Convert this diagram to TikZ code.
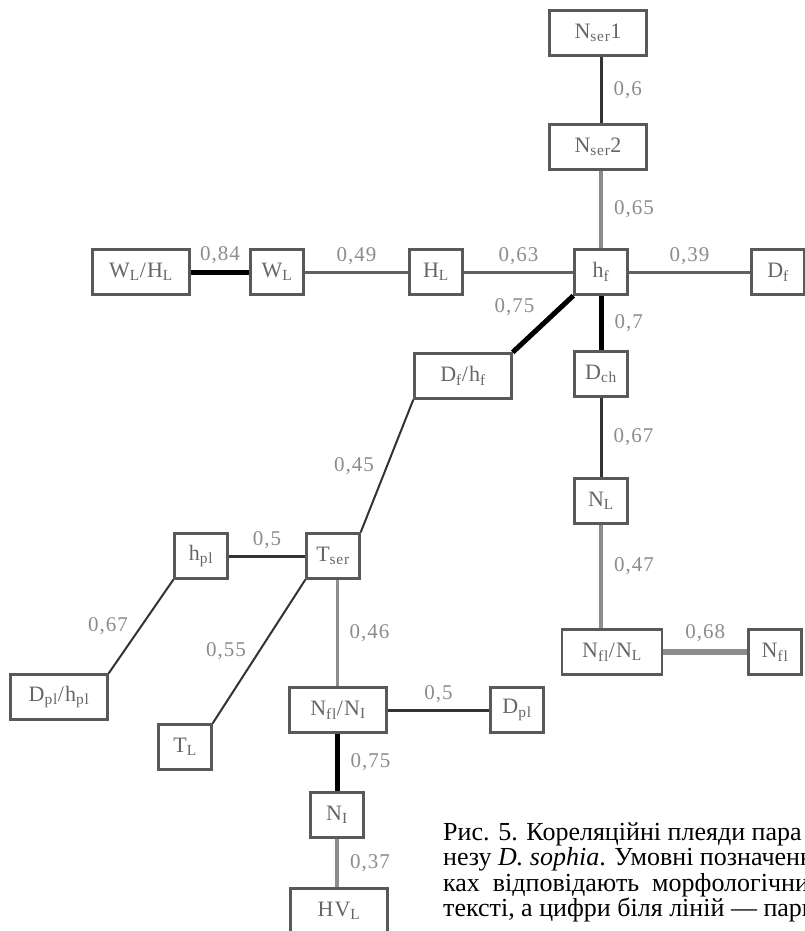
\documentclass[tikz,border=0pt]{standalone}
\usepackage{fontspec}
\setmainfont{Liberation Serif}
\newfontfamily\spacedfont[LetterSpace=5]{Liberation Serif}

\begin{document}
\begin{tikzpicture}[x=1pt,y=-1pt]
\tikzstyle{every node}=[inner sep=0pt, text=black!60]
\tikzstyle{box}=[draw=black!65, line width=2.4pt, minimum height=45pt, minimum width=53pt, font=\spacedfont\fontsize{22}{22}\selectfont]
\tikzstyle{wbox}=[box, minimum width=97pt]
\tikzstyle{val}=[inner sep=3pt, text=black!45, font=\spacedfont\fontsize{21}{21}\selectfont]
\tikzstyle{capt}=[text=black, font=\fontsize{26}{26}\selectfont]
\tikzstyle{lbold}=[line width=5pt, black]
\tikzstyle{ldark}=[line width=3pt, black!80]
\tikzstyle{lmid}=[line width=3pt, black!62]
\tikzstyle{lgrey}=[line width=4pt, black!45]
\tikzstyle{lthin}=[line width=2pt, black!80]
\useasboundingbox (0,0) rectangle (805,931);
\clip (0,0) rectangle (805,931);
\draw (598,33) node (Nser1) [wbox] {N\textsubscript{ser}1};
\draw (598,147) node (Nser2) [wbox] {N\textsubscript{ser}2};
\draw (601,272) node (hf) [box] {h\textsubscript{f}};
\draw (778,272) node (Df) [box] {D\textsubscript{f}};
\draw (141,272) node (WLHL) [wbox] {W\textsubscript{L}/H\textsubscript{L}};
\draw (277,272) node (WL) [box] {W\textsubscript{L}};
\draw (436,272) node (HL) [box] {H\textsubscript{L}};
\draw (463,376) node (Dfhf) [wbox] {D\textsubscript{f}/h\textsubscript{f}};
\draw (601,374) node (Dch) [box] {D\textsubscript{ch}};
\draw (601,501) node (NL) [box] {N\textsubscript{L}};
\draw (612,652) node (NflNL) [wbox, minimum width=100pt] {N\textsubscript{fl}/N\textsubscript{L}};
\draw (775,652) node (Nfl) [box] {N\textsubscript{fl}};
\draw (333,556) node (Tser) [box] {T\textsubscript{ser}};
\draw (201,556) node (hpl) [box] {h\textsubscript{pl}};
\draw (59,697) node (Dplhpl) [wbox] {D\textsubscript{pl}/h\textsubscript{pl}};
\draw (185,747) node (TL) [box] {T\textsubscript{L}};
\draw (338,710) node (NflNI) [wbox] {N\textsubscript{fl}/N\textsubscript{I}};
\draw (517,710) node (Dpl) [box] {D\textsubscript{pl}};
\draw (337,815) node (NI) [box] {N\textsubscript{I}};
\draw (339,911) node (HVL) [wbox] {HV\textsubscript{L}};
% connections
\draw[ldark] (Nser1.south -| hf) -- (Nser2.north -| hf) node[val, midway, right=8pt] {0,6};
\draw[lgrey] (Nser2.south -| hf) -- (hf) node[val, midway, right=8pt] {0,65};
\draw[lbold] (WLHL) -- (WL) node[val, midway, above=3pt] {0,84};
\draw[lmid] (WL) -- (HL) node[val, midway, above=3pt] {0,49};
\draw[lmid] (HL) -- (hf) node[val, midway, above=3pt] {0,63};
\draw[lmid] (hf) -- (Df) node[val, midway, above=3pt] {0,39};
\draw[lbold] (Dfhf.north east) -- (hf.south west) node[val, midway, above left=3pt] {0,75};
\draw[lbold] (hf) -- (Dch) node[val, midway, right=8pt] {0,7};
\draw[ldark] (Dch) -- (NL) node[val, midway, right=8pt] {0,67};
\draw[lgrey] (NL.south) -- (NL.south |- NflNL.north) node[val, pos=.4, right=8pt] {0,47};
\draw[lgrey, line width=6pt] (NflNL) -- (Nfl) node[val, midway, above=4pt] {0,68};
\draw[lthin] (Dfhf.south west) -- (Tser.north east) node[val, midway, left=9pt] {0,45};
\draw[ldark] (hpl) -- (Tser) node[val, midway, above=3pt] {0,5};
\draw[lthin] (hpl.south west) -- (Dplhpl.north east) node[val, midway, left=9pt] {0,67};
\draw[lthin] (Tser.south west) -- (TL.north east) node[val, midway, left=9pt] {0,55};
\draw[lgrey, line width=3pt] (Tser.south -| NI) -- (NflNI.north -| NI) node[val, midway, right=8pt] {0,46};
\draw[ldark] (NflNI) -- (Dpl) node[val, midway, above=3pt] {0,5};
\draw[lbold] (NflNI.south -| NI) -- (NI) node[val, midway, right=8pt] {0,75};
\draw[lgrey] (NI) -- (HVL.north -| NI) node[val, midway, right=8pt] {0,37};
% caption
\draw (443,840) node (cap1) [capt, anchor=base west] {Рис. 5. Кореляційні плеяди пара};
\draw (443,865.5) node (cap2) [capt, anchor=base west] {незу \textit{D. sophia}. Умовні позначенн};
\draw (443,891) node (cap3) [capt, anchor=base west] {ках\ \ відповідають\ \ морфологічни};
\draw (443,916.5) node (cap4) [capt, anchor=base west] {тексті, а цифри біля ліній — парн};
\end{tikzpicture}
\end{document}
